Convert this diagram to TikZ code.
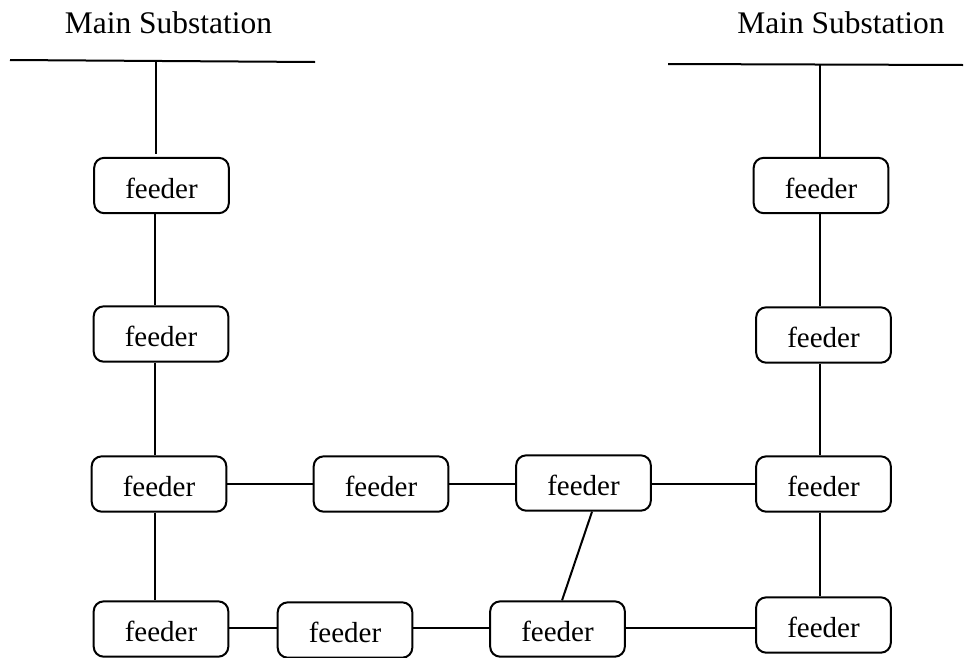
\documentclass[tikz,border=0pt]{standalone}
\usepackage{fontspec}
\setmainfont{Liberation Serif}
\begin{document}
\begin{tikzpicture}[x=0.75pt,y=-0.75pt,
  wire/.style={line width=1.5pt},
  feederbox/.style={draw, line width=1.5pt, rounded corners=7.5pt,
    minimum width=101pt, minimum height=41.5pt, inner sep=0pt,
    font=\fontsize{21.75}{26}\selectfont, text height=18.75pt, text depth=0pt},
  title/.style={font=\fontsize{23.6}{28}\selectfont, anchor=base, inner sep=0pt}]
\useasboundingbox (0,0) rectangle (966,657);

% substation labels
\node[title] (TL) at (168.5,33) {Main Substation};
\node[title] (TR) at (841,33) {Main Substation};

% feeder boxes
\node[feederbox] (L1) at (161.5,185.5) {feeder};
\node[feederbox] (L2) at (161,334) {feeder};
\node[feederbox] (L3) at (159,484) {feeder};
\node[feederbox] (L4) at (161,629) {feeder};
\node[feederbox] (M1) at (381,484) {feeder};
\node[feederbox] (M2) at (583.5,483) {feeder};
\node[feederbox] (R1) at (821,185.5) {feeder};
\node[feederbox] (R2) at (823.5,335) {feeder};
\node[feederbox] (R3) at (823.5,484) {feeder};
\node[feederbox] (R4) at (823.5,625) {feeder};
\node[feederbox] (B2) at (345,630) {feeder};
\node[feederbox] (B3) at (557.5,629) {feeder};

% bus bars
\coordinate (busLw) at (10,60);
\coordinate (busLe) at (315,62);
\coordinate (busRw) at (668,64);
\coordinate (busRe) at (963,65);
\draw[wire] (busLw) -- (busLe);
\draw[wire] (busRw) -- (busRe);

% column and row guides for the straight runs
\coordinate (tapL) at (156,61);
\coordinate (tapR) at (820,65);
\coordinate (colL) at (155,0);
\coordinate (colR) at (820,0);
\coordinate (rowM) at (0,484);
\coordinate (rowB) at (0,628);

% left column
\draw[wire, shorten >=2pt] (tapL) -- (tapL |- L1.north);
\draw[wire] (colL |- L1.south) -- (colL |- L2.north);
\draw[wire] (colL |- L2.south) -- (colL |- L3.north);
\draw[wire] (colL |- L3.south) -- (colL |- L4.north);

% right column
\draw[wire] (tapR) -- (tapR |- R1.north);
\draw[wire] (colR |- R1.south) -- (colR |- R2.north);
\draw[wire] (colR |- R2.south) -- (colR |- R3.north);
\draw[wire] (colR |- R3.south) -- (colR |- R4.north);

% middle row
\draw[wire] (rowM -| L3.east) -- (rowM -| M1.west);
\draw[wire] (rowM -| M1.east) -- (rowM -| M2.west);
\draw[wire] (rowM -| M2.east) -- (rowM -| R3.west);

% bottom row
\draw[wire] (rowB -| L4.east) -- (rowB -| B2.west);
\draw[wire] (rowB -| B2.east) -- (rowB -| B3.west);
\draw[wire] (rowB -| B3.east) -- (rowB -| R4.west);

% tie between the two rows
\draw[wire] ([xshift=6.4pt]M2.south) -- ([xshift=3.4pt]B3.north);
\end{tikzpicture}
\end{document}
